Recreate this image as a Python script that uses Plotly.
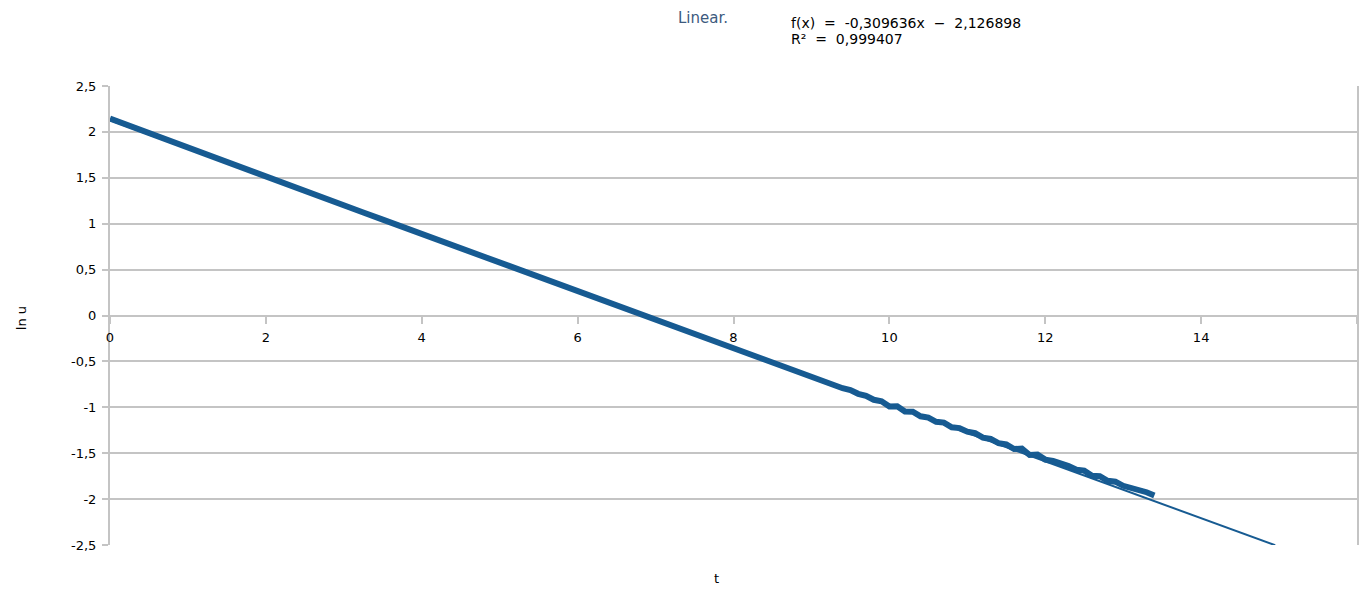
import plotly.graph_objects as go

# ---- data ----
t_values = [0.0, 0.25, 0.5, 0.75, 1.0, 1.25, 1.5, 1.75, 2.0, 2.25, 2.5, 2.75,
            3.0, 3.25, 3.5, 3.75, 4.0, 4.25, 4.5, 4.75, 5.0, 5.25, 5.5, 5.75,
            6.0, 6.25, 6.5, 6.75, 7.0, 7.25, 7.5, 7.75,
            8.0, 8.1, 8.2, 8.3, 8.4, 8.5, 8.6, 8.7, 8.8, 8.9,
            9.0, 9.1, 9.2, 9.3, 9.4, 9.5, 9.6, 9.7, 9.8, 9.9,
            10.0, 10.1, 10.2, 10.3, 10.4, 10.5, 10.6, 10.7, 10.8, 10.9,
            11.0, 11.1, 11.2, 11.3, 11.4, 11.5, 11.6, 11.7, 11.8, 11.9,
            12.0, 12.1, 12.2, 12.3, 12.4, 12.5, 12.6, 12.7, 12.8, 12.9,
            13.0, 13.1, 13.2, 13.3, 13.4]
ln_u_values = [2.145, 2.065, 1.985, 1.905, 1.828, 1.749, 1.671, 1.592, 1.514, 1.435, 1.357, 1.279,
               1.201, 1.122, 1.044, 0.966, 0.887, 0.809, 0.731, 0.652, 0.574, 0.496, 0.418, 0.340,
               0.262, 0.184, 0.106, 0.029, -0.049, -0.127, -0.204, -0.281,
               -0.356, -0.387, -0.418, -0.448, -0.480, -0.510, -0.542, -0.569, -0.604, -0.631,
               -0.667, -0.692, -0.730, -0.754, -0.792, -0.812, -0.853, -0.875, -0.918, -0.934,
               -0.990, -0.988, -1.045, -1.048, -1.098, -1.112, -1.158, -1.167, -1.218, -1.227,
               -1.265, -1.282, -1.330, -1.345, -1.390, -1.405, -1.455, -1.450, -1.520, -1.515,
               -1.570, -1.585, -1.610, -1.640, -1.680, -1.690, -1.745, -1.750, -1.800, -1.810,
               -1.855, -1.880, -1.890, -1.925, -1.960]

# linear trend line (coefficients as printed in the chart)
trend_slope = -0.309636
trend_intercept = 2.126898
trend_x = [0.0, 14.95]
trend_y = [trend_intercept + trend_slope * v for v in trend_x]

x_ticks = [0, 2, 4, 6, 8, 10, 12, 14, 16]
y_ticks = [2.5, 2, 1.5, 1, 0.5, 0, -0.5, -1, -1.5, -2, -2.5]
y_tick_labels = ["2,5", "2", "1,5", "1", "0,5", "0", "-0,5", "-1", "-1,5", "-2", "-2,5"]

title_text = "Linear."
equation_lines = ["f(x)\u00a0 =\u00a0 -0,309636x\u00a0 −\u00a0 2,126898", "R²\u00a0 =\u00a0 0,999407"]
x_title = "t"
y_title = "ln u"

# ---- figure ----
blue = "#175b92"
grid = "#c4c4c4"
font_family = "DejaVu Sans"

# the page body has an 8px margin; plot area sits at page x 110..1359, y 86..545
PL, PT, PW, PH = 110, 86, 1249, 459


def px_x(p):
    return (p - PL) / PW


def px_y(p):
    return 1 - (p - PT) / PH


fig = go.Figure()
fig.add_trace(go.Scatter(x=t_values, y=ln_u_values, mode="lines",
                         line=dict(color=blue, width=6), hoverinfo="x+y",
                         showlegend=False))
fig.add_trace(go.Scatter(x=trend_x, y=trend_y, mode="lines",
                         line=dict(color=blue, width=2), showlegend=False))

fig.update_layout(
    width=1351, height=579,
    margin=dict(l=102, r=0, t=78, b=42),
    paper_bgcolor="white", plot_bgcolor="white",
    font=dict(family=font_family, size=13, color="black"),
    xaxis=dict(range=[0, 16], tickvals=x_ticks, ticktext=[str(v) for v in x_ticks],
               showgrid=False, zeroline=False, showline=False,
               ticks="outside", ticklen=7, tickcolor=grid, tickwidth=2,
               anchor="free", position=0.5, ticklabelstandoff=3,
               tickfont=dict(size=13, family=font_family, color="black")),
    yaxis=dict(range=[-2.5, 2.5], tickvals=y_ticks, ticktext=y_tick_labels,
               showgrid=True, gridcolor=grid, gridwidth=2, zeroline=False,
               showline=True, linecolor=grid, linewidth=2, mirror=True,
               ticks="outside", ticklen=6, tickcolor=grid, tickwidth=2,
               ticklabelstandoff=3,
               tickfont=dict(size=13, family=font_family, color="black")),
    annotations=[
        dict(text=title_text, xref="paper", yref="paper", x=px_x(704),
             y=px_y(18), showarrow=False, xanchor="center", yanchor="middle",
             font=dict(size=15, color="#3d5a7e", family=font_family)),
        dict(text=equation_lines[0], xref="paper", yref="paper", x=px_x(790),
             y=px_y(23), showarrow=False, xanchor="left", yanchor="middle",
             font=dict(size=14, color="black", family=font_family)),
        dict(text=equation_lines[1], xref="paper", yref="paper", x=px_x(790),
             y=px_y(39), showarrow=False, xanchor="left", yanchor="middle",
             font=dict(size=14, color="black", family=font_family)),
        dict(text=x_title, xref="paper", yref="paper", x=px_x(717),
             y=px_y(578), showarrow=False, xanchor="center", yanchor="middle",
             font=dict(size=13, color="black", family=font_family)),
        dict(text=y_title, xref="paper", yref="paper", x=px_x(21),
             y=px_y(318), showarrow=False, xanchor="center", yanchor="middle",
             textangle=-90, font=dict(size=13, color="black", family=font_family)),
    ],
)

fig.write_html("out.html")
